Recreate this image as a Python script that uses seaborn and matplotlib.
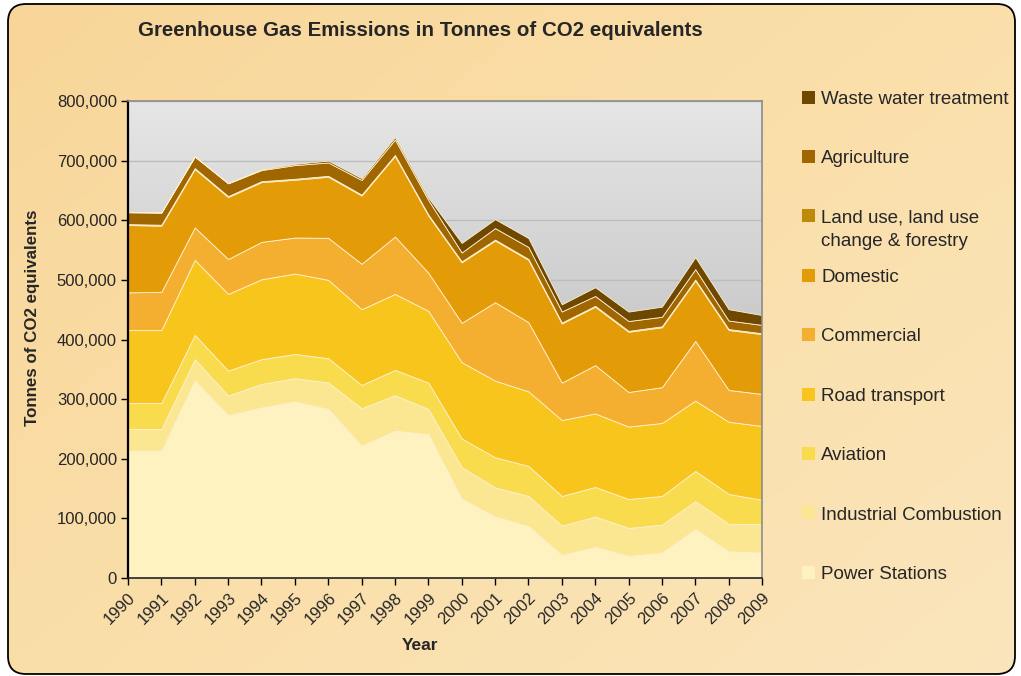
import numpy as np
import pandas as pd
import matplotlib
matplotlib.use("Agg")
import matplotlib.pyplot as plt
import seaborn as sns
from matplotlib.colors import LinearSegmentedColormap
from matplotlib.patches import FancyBboxPatch, Rectangle
from matplotlib.ticker import FuncFormatter
from matplotlib.transforms import ScaledTranslation

# ---------------- data ----------------
years = [1990, 1991, 1992, 1993, 1994, 1995, 1996, 1997, 1998, 1999,
         2000, 2001, 2002, 2003, 2004, 2005, 2006, 2007, 2008, 2009]

power_stations = [213600, 213600, 331000, 273000, 286000, 296000, 283500, 222000, 247000, 241000,
                  133000, 103000, 87000, 38600, 52000, 37000, 42500, 82000, 44700, 42500]
industrial_combustion = [36400, 36400, 36000, 33000, 39500, 39000, 44500, 62700, 59500, 42500,
                         52700, 49000, 50600, 49200, 51000, 47000, 47000, 47000, 46300, 48100]
aviation = [43600, 43600, 40700, 41800, 41500, 40800, 40600, 39100, 42500, 44200,
            48300, 50500, 50400, 49800, 49700, 48500, 48100, 50500, 50000, 40400]
road_transport = [122400, 122400, 125900, 128700, 134000, 134800, 131400, 127000, 127500, 120300,
                  128000, 128500, 125000, 127400, 123300, 121500, 122400, 118000, 121000, 124000]
commercial = [63000, 64000, 54400, 58500, 62700, 60400, 70500, 76200, 96200, 64000,
              66000, 131500, 116000, 62700, 81000, 58000, 60000, 100100, 53400, 53700]
domestic = [113000, 111000, 98000, 104000, 100300, 97000, 102500, 114500, 135300, 96000,
            101500, 103500, 104600, 99300, 98000, 101000, 100600, 101400, 100600, 100300]
land_use = [1500, 1500, 1500, 1500, 1500, 1500, 1500, 1500, 1500, 1500,
            1500, 1500, 1500, 1500, 1500, 1500, 1500, 1500, 1500, 1500]
agriculture = [20000, 20500, 19500, 21500, 18700, 23000, 22500, 24500, 26000, 24500,
               15000, 19300, 20000, 18500, 16500, 16500, 16000, 17500, 14300, 14000]
waste_water = [0, 0, 0, 0, 1500, 2000, 3000, 3000, 4000, 4000,
               16000, 15000, 15000, 12000, 14700, 15800, 17000, 20000, 19000, 16500]

series_names = ["Power Stations", "Industrial Combustion", "Aviation", "Road transport",
                "Commercial", "Domestic", "Land use, land use\nchange & forestry",
                "Agriculture", "Waste water treatment"]
series_colors = ["#FEF2C0", "#FBE691", "#F9DB4E", "#F8C51C", "#F4AE30",
                 "#E39C08", "#BF8A0A", "#A06600", "#6E4800"]
y_ticks = [0, 100000, 200000, 300000, 400000, 500000, 600000, 700000, 800000]

df = pd.DataFrame({
    "Year": years,
    series_names[0]: power_stations,
    series_names[1]: industrial_combustion,
    series_names[2]: aviation,
    series_names[3]: road_transport,
    series_names[4]: commercial,
    series_names[5]: domestic,
    series_names[6]: land_use,
    series_names[7]: agriculture,
    series_names[8]: waste_water,
})

# ---------------- style ----------------
sns.set_style("ticks")
plt.rcParams["font.family"] = ["Liberation Sans", "DejaVu Sans"]

W, H = 1021, 676
fig = plt.figure(figsize=(W / 100, H / 100), dpi=100)
fig.patch.set_facecolor("white")

# background axes in pixel coordinates
bg = fig.add_axes([0, 0, 1, 1], zorder=0)
bg.set_xlim(0, W)
bg.set_ylim(H, 0)
bg.axis("off")
frame = FancyBboxPatch((8, 4), W - 8 - 6, H - 4 - 2,
                       boxstyle="round,pad=0,rounding_size=18",
                       facecolor="none", edgecolor="black", linewidth=1.3, zorder=3)
bg.add_patch(frame)
gx = np.linspace(0, 1, 200)
gy = np.linspace(0, 1, 140)
GX, GY = np.meshgrid(gx, gy)
grad = 0.55 * GX + 0.45 * GY
bg_cmap = LinearSegmentedColormap.from_list("bgc", ["#F8D699", "#FADFAA", "#FBE5BC"])
im = bg.imshow(grad, extent=(8, W - 6, H - 2, 4), cmap=bg_cmap, aspect="auto", zorder=1)
clip = FancyBboxPatch((8, 4), W - 8 - 6, H - 4 - 2,
                      boxstyle="round,pad=0,rounding_size=18", transform=bg.transData)
im.set_clip_path(clip)

# main axes
x0, x1, y0, y1 = 128, 762, 101, 578
ax = fig.add_axes([x0 / W, (H - y1) / H, (x1 - x0) / W, (y1 - y0) / H], zorder=2)
ax.set_facecolor("none")

# plot-area grey gradient
plot_cmap = LinearSegmentedColormap.from_list("pg", ["#E6E6E6", "#ABABAB"])
ax.imshow(np.linspace(0, 1, 256).reshape(-1, 1), extent=(years[0], years[-1], 0, 800000),
          cmap=plot_cmap, aspect="auto", zorder=0, origin="upper")

for t in y_ticks[1:]:
    ax.axhline(t, color="#BDBDBD", linewidth=1.0, zorder=1)

polys = ax.stackplot(df["Year"], *[df[n] for n in series_names],
                     colors=series_colors, zorder=2)
for p in polys:
    p.set_edgecolor("#FFF1CF")
    p.set_linewidth(0.6)

ax.set_xlim(years[0], years[-1])
ax.set_ylim(0, 800000)
ax.set_xticks(years)
ax.set_xticklabels([str(y) for y in years], rotation=45, ha="right", va="top",
                   rotation_mode="anchor", fontsize=12)
shift = ScaledTranslation(-4 / 100, -4 / 100, fig.dpi_scale_trans)
for lab in ax.get_xticklabels():
    lab.set_transform(lab.get_transform() + shift)
ax.set_yticks(y_ticks)
ax.yaxis.set_major_formatter(FuncFormatter(lambda v, p: f"{int(v):,}"))
ax.tick_params(axis="y", labelsize=12, length=5, width=1, color="black", pad=3, direction="out")
ax.tick_params(axis="x", length=5, width=1, color="black", pad=4, direction="out")
ax.grid(False)

for side in ["top", "right"]:
    ax.spines[side].set_visible(True)
    ax.spines[side].set_color("#8C8C8C")
    ax.spines[side].set_linewidth(1.2)
ax.spines["left"].set_color("black")
ax.spines["left"].set_linewidth(1.6)
ax.spines["bottom"].set_color("#222222")
ax.spines["bottom"].set_linewidth(1.2)
for s in ax.spines.values():
    s.set_zorder(5)

# titles
bg.text(420, 30, "Greenhouse Gas Emissions in Tonnes of CO2 equivalents",
        ha="center", va="center", fontsize=14.8, fontweight="bold", zorder=4)
bg.text(33, 318, "Tonnes of CO2 equivalents", rotation=90, ha="center", va="center",
        fontsize=12.2, fontweight="bold", zorder=4)
bg.text(420, 646, "Year", ha="center", va="center", fontsize=12.5, fontweight="bold", zorder=4)

# legend (reverse order, Excel style)
for i, (name, col) in enumerate(zip(series_names[::-1], series_colors[::-1])):
    cy = 97 + i * 59.4
    bg.add_patch(Rectangle((802, cy - 6.5), 13, 13, facecolor=col, edgecolor="none", zorder=4))
    for k, line in enumerate(name.split("\n")):
        bg.text(821, cy + 6.8 + k * 23, line, ha="left", va="baseline",
                fontsize=13.5, zorder=4)

fig.savefig("out.png", dpi=100)
